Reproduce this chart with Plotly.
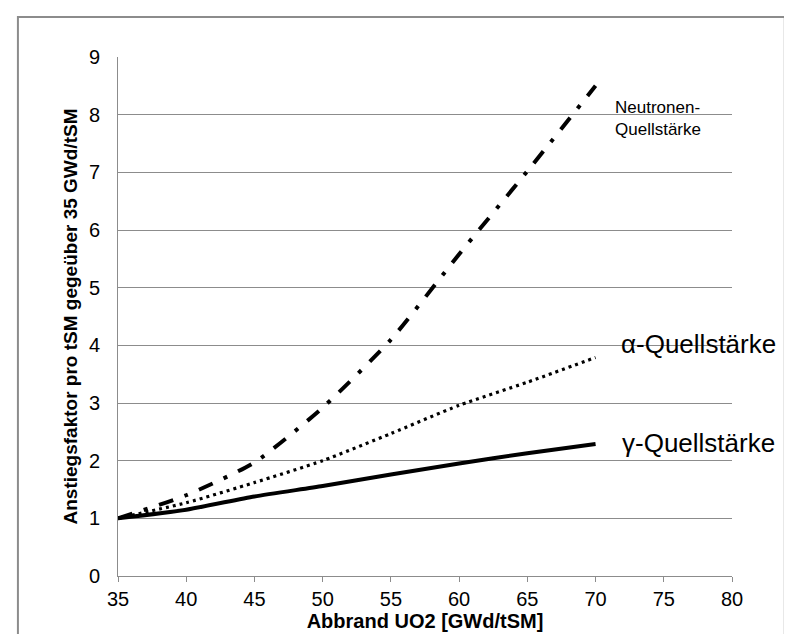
import plotly.graph_objects as go

burnup = [35, 40, 45, 50, 55, 60, 65, 70]
gamma = [1.0, 1.15, 1.38, 1.56, 1.76, 1.95, 2.13, 2.29]
alpha = [1.0, 1.27, 1.62, 2.0, 2.47, 2.96, 3.36, 3.79]
neutron = [1.0, 1.4, 1.97, 2.92, 4.1, 5.58, 7.02, 8.5]

x_ticks = [35, 40, 45, 50, 55, 60, 65, 70, 75, 80]
y_ticks = [0, 1, 2, 3, 4, 5, 6, 7, 8, 9]

fig = go.Figure()
fig.add_trace(go.Scatter(x=burnup, y=neutron, mode="lines", name="Neutronen-Quellstärke",
                         line=dict(color="black", width=4, dash="15px,12px,4px,12px",
                                   shape="spline", smoothing=0.6)))
fig.add_trace(go.Scatter(x=burnup, y=alpha, mode="lines", name="α-Quellstärke",
                         line=dict(color="black", width=3.2, dash="3px,4px",
                                   shape="spline", smoothing=0.6)))
fig.add_trace(go.Scatter(x=burnup, y=gamma, mode="lines", name="γ-Quellstärke",
                         line=dict(color="black", width=4, shape="spline", smoothing=0.6)))

font = "Liberation Sans, Arial, sans-serif"
fig.add_annotation(x=71.3, y=7.93, text="Neutronen-<br>Quellstärke", showarrow=False,
                   xanchor="left", yanchor="middle", align="left",
                   font=dict(family=font, size=17, color="black"))
fig.add_annotation(x=71.7, y=4.02, text="α-Quellstärke", showarrow=False,
                   xanchor="left", yanchor="middle",
                   font=dict(family=font, size=26, color="black"))
fig.add_annotation(x=71.8, y=2.3, text="γ-Quellstärke", showarrow=False,
                   xanchor="left", yanchor="middle",
                   font=dict(family=font, size=26, color="black"))

fig.add_shape(type="rect", xref="paper", yref="paper", x0=-0.163, x1=1.086, y0=-0.3, y1=1.077,
              line=dict(color="#8c8c8c", width=2))

fig.update_layout(
    width=792, height=634,
    margin=dict(l=110, r=68, t=49, b=66),
    paper_bgcolor="white", plot_bgcolor="white",
    showlegend=False,
    font=dict(family=font, size=20, color="black"),
)
fig.update_xaxes(range=[35, 80], tickvals=x_ticks, showgrid=False, zeroline=False,
                 showline=True, linecolor="#8c8c8c", linewidth=1,
                 ticks="outside", ticklen=5, tickcolor="#8c8c8c",
                 title=dict(text="<b>Abbrand UO2 [GWd/tSM]</b>", standoff=2,
                            font=dict(size=20)),
                 tickfont=dict(size=20))
fig.update_yaxes(range=[0, 9], tickvals=y_ticks, showgrid=True, gridcolor="#8c8c8c", gridwidth=1,
                 zeroline=False, showline=True, linecolor="#8c8c8c", linewidth=1,
                 ticks="", ticklabelstandoff=13,
                 title=dict(text="<b>Anstiegsfaktor pro tSM gegeüber 35 GWd/tSM</b>", standoff=6,
                            font=dict(size=19)),
                 tickfont=dict(size=20))

fig.write_html("out.html")
